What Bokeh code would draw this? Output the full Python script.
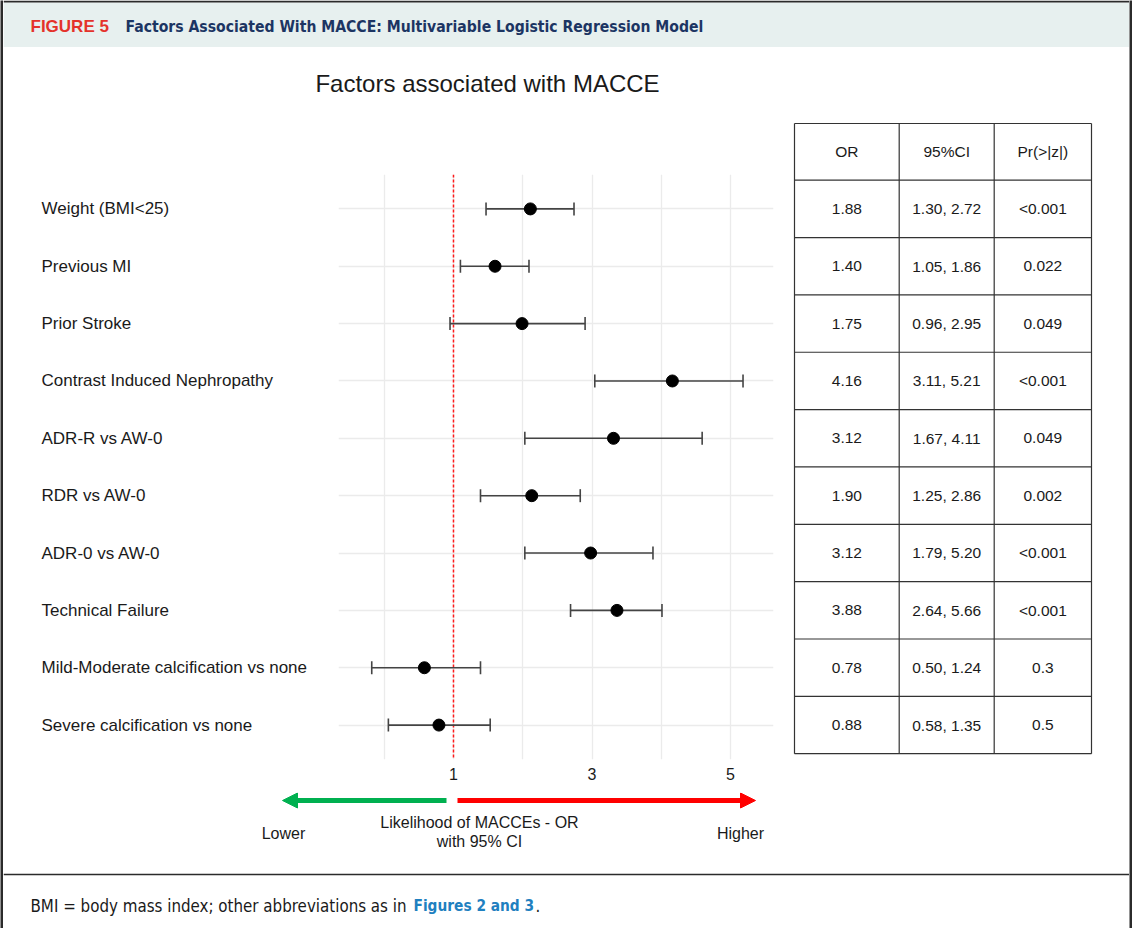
import numpy as np
from bokeh.plotting import figure
from bokeh.models import (Range1d, FactorRange, FixedTicker, Grid, CategoricalTicker,
                          Span, Arrow, NormalHead, ColumnDataSource)
from bokeh.layouts import row, column
from bokeh.core.properties import value
from bokeh.embed import file_html
from bokeh.resources import INLINE

# ---------------- data ----------------
labels = ["Weight (BMI<25)", "Previous MI", "Prior Stroke", "Contrast Induced Nephropathy",
          "ADR-R vs AW-0", "RDR vs AW-0", "ADR-0 vs AW-0", "Technical Failure",
          "Mild-Moderate calcification vs none", "Severe calcification vs none"]
# plotted positions
or_pt = [2.11, 1.60, 1.99, 4.16, 3.31, 2.13, 2.98, 3.36, 0.58, 0.79]
ci_lo = [1.47, 1.10, 0.95, 3.04, 2.03, 1.39, 2.03, 2.69, -0.18, 0.06]
ci_hi = [2.74, 2.09, 2.90, 5.18, 4.59, 2.83, 3.88, 4.01, 1.39, 1.53]
# table values
tab_or = ["1.88", "1.40", "1.75", "4.16", "3.12", "1.90", "3.12", "3.88", "0.78", "0.88"]
tab_ci = ["1.30, 2.72", "1.05, 1.86", "0.96, 2.95", "3.11, 5.21", "1.67, 4.11",
          "1.25, 2.86", "1.79, 5.20", "2.64, 5.66", "0.50, 1.24", "0.58, 1.35"]
tab_p = ["<0.001", "0.022", "0.049", "<0.001", "0.049", "0.002", "<0.001", "<0.001", "0.3", "0.5"]
tab_header = ["OR", "95%CI", "Pr(>|z|)"]
x_ticks = [1, 3, 5]
grid_ticks = [0, 1, 2, 3, 4, 5]

ARIAL = value("Liberation Sans")
COND = value("'DejaVu Sans Condensed', 'Liberation Sans Narrow', 'Liberation Sans'")
INK = "#1a1a1a"
BORDER = "#2b2b2b"


def pix_fig(w, h):
    p = figure(width=w, height=h, x_range=Range1d(0, w), y_range=Range1d(h, 0),
               x_axis_type=None, y_axis_type=None, toolbar_location=None,
               output_backend="svg", min_border=0, outline_line_color=None)
    p.background_fill_color = "white"
    p.border_fill_color = "white"
    return p


# ---------------- borders ----------------
lb = pix_fig(3, 928)
lb.background_fill_color = BORDER
lb.border_fill_color = BORDER
rb = pix_fig(3, 928)
rb.background_fill_color = BORDER
rb.border_fill_color = BORDER

# ---------------- header ----------------
hdr = pix_fig(1126, 47)
hdr.quad(left=0, right=1126, top=2, bottom=47, fill_color="#e7f0ef", line_color=None)
hdr.segment(x0=0, y0=1, x1=1126, y1=1, line_color=BORDER, line_width=2)
hdr.text(x=[27], y=[26], text=["FIGURE 5"], text_font=ARIAL, text_font_style="bold",
         text_font_size="17px", text_color="#e4322b", text_baseline="middle")
hdr.text(x=[122], y=[26], text=["Factors Associated With MACCE: Multivariable Logistic Regression Model"],
         text_font=COND, text_font_style="bold", text_font_size="15.6px", text_color="#1c3563",
         text_baseline="middle")

# ---------------- title ----------------
tf_title = pix_fig(787, 127)
tf_title.text(x=[484], y=[36], text=["Factors associated with MACCE"], text_font=ARIAL,
              text_font_size="24px", text_color=INK, text_align="center", text_baseline="middle")

# ---------------- forest ----------------
src = ColumnDataSource(dict(label=labels, pt=or_pt, lo=ci_lo, hi=ci_hi))
yr = FactorRange(factors=labels[::-1], range_padding=0.1, range_padding_units="absolute")

fp = figure(width=452, height=618, x_range=Range1d(-0.66, 5.62), y_range=yr,
            y_axis_type=None, toolbar_location=None, output_backend="svg",
            min_border_left=0, min_border_right=17, min_border_top=0, min_border_bottom=33,
            outline_line_color=None)
fp.background_fill_color = "white"
fp.border_fill_color = "white"
ax = fp.xaxis[0]
ax.ticker = FixedTicker(ticks=x_ticks)
ax.axis_line_color = None
ax.major_tick_line_color = None
ax.minor_tick_line_color = None
ax.major_tick_out = 0
ax.major_tick_in = 0
ax.major_label_standoff = 8
ax.major_label_text_font = "Liberation Sans"
ax.major_label_text_font_size = "16px"
ax.major_label_text_color = INK
fp.xgrid.ticker = FixedTicker(ticks=grid_ticks)
fp.xgrid.grid_line_color = "#ebebeb"
fp.xgrid.grid_line_width = 1.3
fp.add_layout(Grid(dimension=1, ticker=CategoricalTicker(), grid_line_color="#ebebeb",
                   grid_line_width=1.3))
fp.add_layout(Span(location=1, dimension="height", line_color="#ff1a1a", line_dash="3 2",
                   line_width=1.5, level="underlay"))
fp.segment(x0="lo", x1="hi", y0="label", y1="label", source=src, line_color="#444444", line_width=1.6)
fp.scatter(x="lo", y="label", marker="dash", angle=np.pi / 2, size=13, line_color="#444444",
           line_width=1.6, source=src)
fp.scatter(x="hi", y="label", marker="dash", angle=np.pi / 2, size=13, line_color="#444444",
           line_width=1.6, source=src)
fp.scatter(x="pt", y="label", size=12, fill_color="black", line_color="black", source=src)

# ---------------- row labels ----------------
lf = figure(width=335, height=618, x_range=Range1d(0, 335), y_range=yr,
            x_axis_type=None, y_axis_type=None, toolbar_location=None, output_backend="svg",
            min_border_left=0, min_border_right=0, min_border_top=0, min_border_bottom=33,
            outline_line_color=None)
lf.background_fill_color = "white"
lf.border_fill_color = "white"
lf.text(x=38, y="label", text="label", source=src, text_font=ARIAL, text_font_size="17px",
        text_color=INK, text_align="left", text_baseline="middle")

# ---------------- bottom (arrows) ----------------
bf = pix_fig(787, 80)
bf.add_layout(Arrow(x_start=454, y_start=8, x_end=752, y_end=8, line_color="#ff0000",
                    line_width=5, end=NormalHead(size=15, fill_color="#ff0000", line_color="#ff0000")))
bf.add_layout(Arrow(x_start=443, y_start=8, x_end=279, y_end=8, line_color="#00b050",
                    line_width=5, end=NormalHead(size=15, fill_color="#00b050", line_color="#00b050")))
bf.text(x=[280, 476, 476, 737], y=[41, 30, 49, 41],
        text=["Lower", "Likelihood of MACCEs - OR", "with 95% CI", "Higher"],
        text_font=ARIAL, text_font_size="16px", text_color=INK, text_align="center",
        text_baseline="middle")

# ---------------- table ----------------
tf = pix_fig(339, 825)
n = len(labels)
row_h = 57.35
head_top = 76.0
body_top = 132.7
col_x = [4.0, 108.7, 203.7, 301.0]
row_y = [head_top] + [body_top + i * row_h for i in range(n + 1)]
xs = [[col_x[0], col_x[-1]] for _ in row_y] + [[c, c] for c in col_x]
ys = [[y, y] for y in row_y] + [[row_y[0], row_y[-1]] for _ in col_x]
tf.multi_line(xs=xs, ys=ys, line_color="#333333", line_width=1.2)
cx = [(col_x[i] + col_x[i + 1]) / 2 for i in range(3)]
tf.text(x=cx, y=[(head_top + body_top) / 2] * 3, text=tab_header, text_font=ARIAL,
        text_font_size="15.5px", text_color=INK, text_align="center", text_baseline="middle")
cy = [body_top + (i + 0.5) * row_h for i in range(n)]
for j, col in enumerate([tab_or, tab_ci, tab_p]):
    tf.text(x=[cx[j]] * n, y=cy, text=col, text_font=ARIAL, text_font_size="15.5px",
            text_color=INK, text_align="center", text_baseline="middle")

# ---------------- caption ----------------
cap = pix_fig(1126, 56)
cap.segment(x0=0, y0=2, x1=1126, y1=2, line_color=BORDER, line_width=1.5)
cap.text(x=[27], y=[33], text=["BMI = body mass index; other abbreviations as in"],
         text_font=COND, text_font_size="16.8px", text_color=INK, text_baseline="middle")
cap.text(x=[410], y=[33], text=["Figures 2 and 3"], text_font=COND, text_font_style="bold",
         text_font_size="15.3px", text_color="#1f80c0", text_baseline="middle")
cap.text(x=[532], y=[33], text=["."], text_font=COND, text_font_size="16.8px",
         text_color=INK, text_baseline="middle")

left_block = column(tf_title, row(lf, fp), bf)
mid = row(left_block, tf)
main = column(hdr, mid, cap)
page = row(lb, main, rb)

open("out.html", "w").write(file_html(page, INLINE))
